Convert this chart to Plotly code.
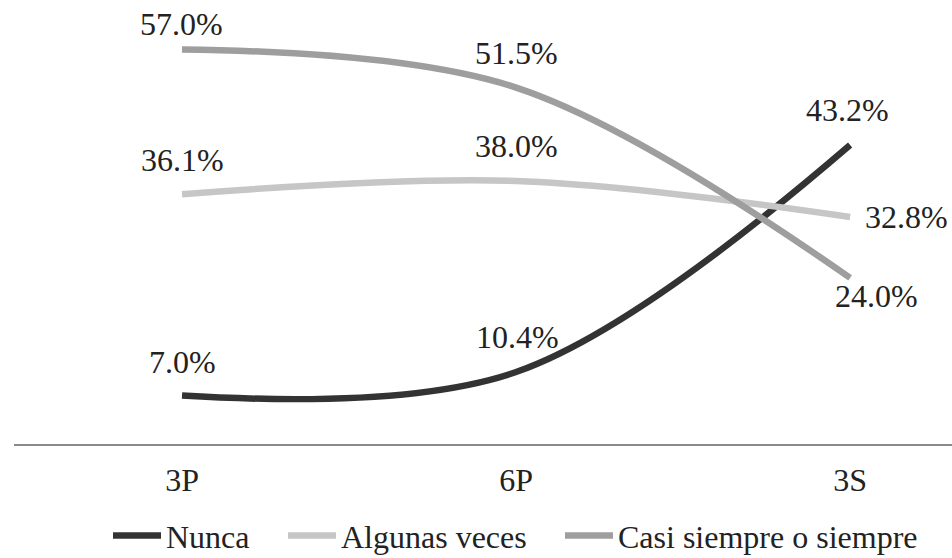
import plotly.graph_objects as go

categories = ["3P", "6P", "3S"]
nunca = [7.0, 10.4, 43.2]
algunas = [36.1, 38.0, 32.8]
casi = [57.0, 51.5, 24.0]
series_names = ["Nunca", "Algunas veces", "Casi siempre o siempre"]
colors = ["#333333", "#c6c6c6", "#9e9e9e"]

FONT = "Liberation Serif"
FS = 32
fig = go.Figure()
legend_ids = ["legend", "legend2", "legend3"]
for name, vals, col, lg in zip(series_names, [nunca, algunas, casi], colors, legend_ids):
    fig.add_trace(go.Scatter(
        x=[0, 1, 2], y=vals, mode="lines", name=name, legend=lg,
        line=dict(color=col, width=6.5, shape="spline", smoothing=1.0),
        hoverinfo="skip",
    ))

# label offsets (px) for each series/point
offsets = {
    "Nunca": [(0, 34), (1, 35), (-3, 35)],
    "Algunas veces": [(0, 34), (0, 35), (13, 0)],
    "Casi siempre o siempre": [(-1, 25), (0, 35), (26, -18)],
}
anchors = {
    "Algunas veces": [None, None, "left"],
}
for name, vals in zip(series_names, [nunca, algunas, casi]):
    for i, v in enumerate(vals):
        dx, dy = offsets[name][i]
        xa = (anchors.get(name, [None]*3)[i]) or "center"
        fig.add_annotation(x=i, y=v, text=f"{v:.1f}%", showarrow=False,
                           xshift=dx, yshift=dy, xanchor=xa,
                           font=dict(family=FONT, size=FS, color="#222"))

def leg(xpx):
    return dict(orientation="h", x=xpx / 952, y=0.04, xref="container", yref="container",
                xanchor="left", yanchor="middle",
                font=dict(family=FONT, size=FS, color="#222"),
                itemwidth=48, bgcolor="rgba(0,0,0,0)")

fig.update_layout(
    width=952, height=558,
    margin=dict(l=14, r=0, t=0, b=114),
    paper_bgcolor="white", plot_bgcolor="white",
    font=dict(family=FONT, size=FS, color="#222"),
    showlegend=True,
    legend=leg(108), legend2=leg(283), legend3=leg(560),
    xaxis=dict(range=[-0.503, 2.305], tickvals=[0, 1, 2], ticktext=categories,
               showgrid=False, zeroline=False, showline=True, linecolor="#8a8a8a",
               linewidth=2, ticks="", ticklabelstandoff=7,
               tickfont=dict(family=FONT, size=FS, color="#222")),
    yaxis=dict(range=[0, 64.15], visible=False, showgrid=False, zeroline=False),
)
fig.write_html("out.html", config={"displayModeBar": False},
               post_script="document.body.style.margin='0';")
